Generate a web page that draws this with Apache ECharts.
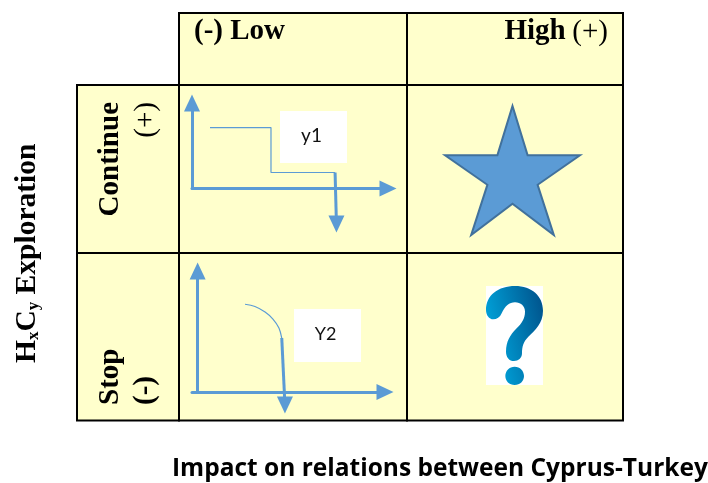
<!DOCTYPE html>
<html>
<head>
<meta charset="utf-8">
<style>html,body{margin:0;padding:0;background:#fff}#main{width:708px;height:483px}</style>
<script src="https://cdn.jsdelivr.net/npm/echarts@6/dist/echarts.min.js"></script>
</head>
<body>
<div id="main"></div>
<script>
var colLabels = ['(-) Low', 'High', '(+)'];
var rowLabels = ['Continue', '(+)', 'Stop', '(-)'];
var xTitle = 'Impact on relations between Cyprus-Turkey';
var boxLabels = ['y1', 'Y2'];

// panel curves, in percent of each little axis
var y1Flat = [[9.2, 71.3], [40.3, 71.3], [40.3, 18.7], [73, 18.7]];
var y1Drop = [[73, 18.7], [73.7, -41.5]];
var y2Curve = [[25.3, 72.5], [30.6, 70.7], [36, 66.1], [40.2, 60.3], [43.4, 52.9], [44.9, 44.6]];
var y2Drop = [[44.9, 44.6], [46.6, -10.7]];

var BLUE = '#5B9BD5';
var YELLOW = '#FFFFCC';
var SERIF = '"Liberation Serif", serif';

var STAR = 'path://M50 0L61.2 38.2L100 38.2L68.6 61.1L80.6 100L50 75.8L19.4 100L31.4 61.1L0 38.2L38.8 38.2Z';
var QUESTION = 'path://M78 120C78 75 115 48 165 48C215 48 249 78 249 122C249 160 225 180 205 200C190 215 186 230 186 250C186 265 175 273 162 273C148 273 138 262 138 245C138 215 150 195 170 175C185 160 195 145 195 125C195 108 182 97 165 97C148 97 135 108 125 130C120 142 110 148 100 148C87 148 78 135 78 120ZM164 290C180 290 192 302 192 318C192 333 180 345 164 345C148 345 136 333 136 318C136 302 148 290 164 290Z';

function cell(x, y, w, h, fill) {
    return {
        type: 'rect',
        shape: { x: x, y: y, width: w, height: h },
        style: { fill: fill || YELLOW, stroke: '#000', lineWidth: 2 }
    };
}
function whiteBox(x, y, w, h, label, size) {
    return [{
        type: 'rect',
        z: 1,
        shape: { x: x, y: y, width: w, height: h },
        style: { fill: '#fff' }
    }, {
        type: 'text',
        z: 5,
        x: x + w / 2 - 2,
        y: y + h / 2 - 1,
        style: { text: label, fill: '#111', font: size + 'px Lato', textAlign: 'center', textVerticalAlign: 'middle' }
    }];
}
function sideText(text, x, y, align, weight) {
    return {
        type: 'text',
        z: 5,
        x: x,
        y: y,
        rotation: Math.PI / 2,
        style: {
            text: text, fill: '#000', font: weight + ' 29px ' + SERIF,
            textAlign: align, textVerticalAlign: 'middle'
        }
    };
}
function hiddenAxis(type, extra) {
    return Object.assign({
        type: type,
        show: false
    }, extra);
}
function arrowAxis(min, max, gridIndex) {
    return {
        type: 'value',
        gridIndex: gridIndex,
        min: min,
        max: max,
        axisLabel: { show: false },
        axisTick: { show: false },
        splitLine: { show: false },
        axisLine: {
            show: true,
            symbol: ['none', 'triangle'],
            symbolSize: [16, 17],
            lineStyle: { color: BLUE, width: 3 }
        }
    };
}
function thinLine(data, idx) {
    return {
        type: 'line', xAxisIndex: idx, yAxisIndex: idx, data: data,
        symbol: 'none', clip: false, z: 3,
        lineStyle: { color: BLUE, width: 1.2 }
    };
}
function dropLine(data, idx) {
    return {
        type: 'line', xAxisIndex: idx, yAxisIndex: idx, clip: false, z: 3,
        showSymbol: true,
        data: [
            { value: data[0], symbol: 'none' },
            { value: data[1], symbol: 'triangle', symbolRotate: 180, symbolSize: [16, 17] }
        ],
        itemStyle: { color: BLUE },
        lineStyle: { color: BLUE, width: 3 }
    };
}

var chart = echarts.init(document.getElementById('main'));

var option = {
    animation: false,
    backgroundColor: '#fff',
    grid: [
        { left: 192, top: 103, width: 196, height: 85.5 },
        { left: 192, top: 271, width: 193, height: 121 },
        { left: 444, top: 105, width: 137, height: 131 },
        { left: 486, top: 286, width: 57, height: 99 }
    ],
    xAxis: [
        arrowAxis(0, 100, 0),
        arrowAxis(-3, 100, 1),
        hiddenAxis('category', { gridIndex: 2, data: [colLabels[1]] }),
        hiddenAxis('category', { gridIndex: 3, data: [colLabels[1]] })
    ],
    yAxis: [
        arrowAxis(0, 100, 0),
        arrowAxis(0, 100, 1),
        hiddenAxis('category', { gridIndex: 2, data: [rowLabels[0]] }),
        hiddenAxis('category', { gridIndex: 3, data: [rowLabels[2]] })
    ],
    series: [
        thinLine(y1Flat, 0),
        dropLine(y1Drop, 0),
        Object.assign(thinLine(y2Curve, 1), { smooth: 0.35 }),
        dropLine(y2Drop, 1),
        {
            type: 'scatter', xAxisIndex: 2, yAxisIndex: 2,
            data: [[colLabels[1], rowLabels[0]]],
            symbol: STAR, symbolSize: [135, 129],
            itemStyle: { color: BLUE, borderColor: '#41719C', borderWidth: 2, opacity: 1 }
        },
        {
            type: 'scatter', xAxisIndex: 3, yAxisIndex: 3,
            data: [[colLabels[1], rowLabels[2]]],
            symbol: QUESTION, symbolSize: [57, 99],
            itemStyle: {
                opacity: 1,
                color: new echarts.graphic.LinearGradient(0, 0.6, 1, 0.2, [
                    { offset: 0, color: '#00A9E0' },
                    { offset: 1, color: '#00558E' }
                ])
            }
        }
    ],
    graphic: [
        cell(179, 13, 228, 72),
        cell(407, 13, 216, 72),
        cell(77, 85, 102, 168),
        cell(77, 253, 102, 167.5),
        cell(179, 85, 228, 168),
        cell(407, 85, 216, 168),
        cell(179, 253, 228, 167.5),
        cell(407, 253, 216, 167.5),
        {
            type: 'rect',
            z: 1,
            shape: { x: 486, y: 286, width: 57, height: 99 },
            style: { fill: '#fff' }
        }
    ].concat(
        whiteBox(280, 111, 67, 52, boxLabels[0], 19),
        whiteBox(294, 309, 67, 53, boxLabels[1], 18),
        [
            {
                type: 'text', z: 5, x: 194, y: 32,
                style: { text: colLabels[0], fill: '#000', font: 'bold 29px ' + SERIF, textVerticalAlign: 'middle' }
            },
            {
                type: 'text', z: 5, x: 608, y: 32,
                style: {
                    text: '{b|' + colLabels[1] + '}  {n|' + colLabels[2] + '}',
                    textAlign: 'right',
                    textVerticalAlign: 'middle',
                    rich: {
                        b: { font: 'bold 29px ' + SERIF, fill: '#000' },
                        n: { font: '29px ' + SERIF, fill: '#000' }
                    }
                }
            },
            sideText(rowLabels[0], 111, 102, 'right', 'bold'),
            sideText(rowLabels[1], 146, 102, 'right', 'normal'),
            sideText(rowLabels[2], 111, 405, 'left', 'bold'),
            sideText(rowLabels[3], 146, 405, 'left', 'bold'),
            {
                type: 'text', z: 5, x: 27, y: 363,
                rotation: Math.PI / 2,
                style: {
                    text: '{b|H}{s|x}{b|C}{s|y}{b| Exploration}',
                    textAlign: 'left',
                    textVerticalAlign: 'middle',
                    rich: {
                        b: { font: 'bold 29.5px ' + SERIF, fill: '#000' },
                        s: { font: 'bold 17px ' + SERIF, fill: '#000', verticalAlign: 'bottom' }
                    }
                }
            },
            {
                type: 'text', z: 5, x: 172, y: 469,
                style: { text: xTitle, fill: '#000', font: 'bold 24.5px "Open Sans"', textVerticalAlign: 'middle' }
            }
        ]
    )
};
chart.setOption(option);
</script>
</body>
</html>
